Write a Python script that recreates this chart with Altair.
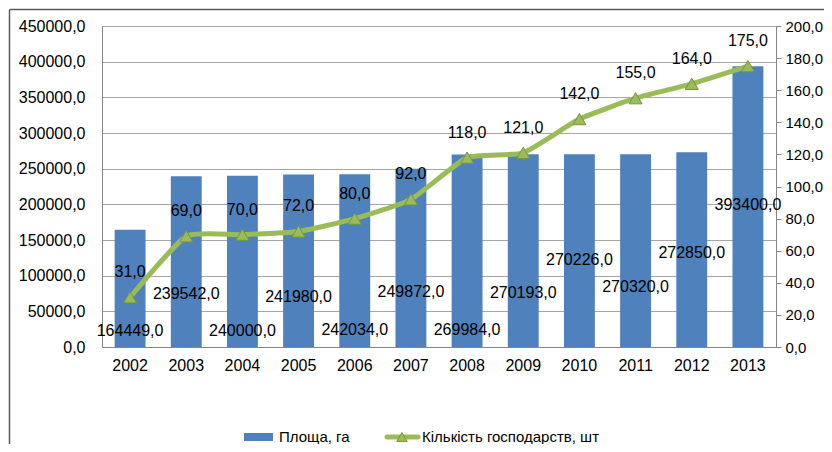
import altair as alt
import pandas as pd

years = [str(y) for y in range(2002, 2014)]
area = [164449.0, 239542.0, 240000.0, 241980.0, 242034.0, 249872.0,
        269984.0, 270193.0, 270226.0, 270320.0, 272850.0, 393400.0]
farms = [31.0, 69.0, 70.0, 72.0, 80.0, 92.0, 118.0, 121.0, 142.0, 155.0, 164.0, 175.0]
# where Excel placed the bar value labels (in left-axis units)
area_label_at = [22400, 74300, 22400, 70100, 23800, 77100, 23800, 75700,
                 122000, 84100, 131800, 199000]

series_names = ["Площа, га", "Кількість господарств, шт"]

BLUE = "#4F81BD"
GREEN = "#9BBB59"
AXIS_GRAY = "#868686"
FONT = "Liberation Sans"
FS = 16


def fmt(v):
    return f"{v:.1f}".replace(".", ",")


df = pd.DataFrame({
    "year": years,
    "area": area,
    "farms": farms,
    "label_at": area_label_at,
    "area_txt": [fmt(v) for v in area],
    "farms_txt": [fmt(v) for v in farms],
})

label_expr = "replace(format(datum.value, '.1f'), '.', ',')"

x = alt.X("year:N",
          scale=alt.Scale(paddingInner=0.45, paddingOuter=0.225),
          axis=alt.Axis(title=None, labelAngle=0, ticks=False, labelPadding=10,
                        domainColor=AXIS_GRAY, labelFontSize=FS, labelColor="black",
                        labelFont=FONT, grid=False))

left_axis = alt.Axis(title=None, values=list(range(0, 450001, 50000)),
                     labelExpr=label_expr, ticks=False, labelPadding=17,
                     grid=True, gridColor="#A6A6A6", domainColor=AXIS_GRAY,
                     labelFontSize=FS, labelColor="black", labelFont=FONT)
left_scale = alt.Scale(domain=[0, 450000], nice=False)

right_axis = alt.Axis(orient="right", title=None, values=list(range(0, 201, 20)),
                      labelExpr=label_expr, tickSize=5, tickColor=AXIS_GRAY,
                      domainColor=AXIS_GRAY, grid=False, labelPadding=4,
                      labelFontSize=15, labelColor="black", labelFont=FONT)
right_scale = alt.Scale(domain=[0, 200], nice=False)

base = alt.Chart(df)

bars = base.mark_bar(color=BLUE).encode(
    x=x,
    y=alt.Y("area:Q", scale=left_scale, axis=left_axis),
)

bar_text = base.mark_text(fontSize=FS, font=FONT, color="black", baseline="middle").encode(
    x=x,
    y=alt.Y("label_at:Q", scale=left_scale, axis=left_axis),
    text="area_txt:N",
)

one = pd.DataFrame({"name": [series_names[0]], "name2": [series_names[1]]})
deco = alt.Chart(one)

border_top = deco.mark_rule(color="#595959", strokeWidth=1.5).encode(
    x=alt.value(-92), x2=alt.value(730), y=alt.value(-16.5))
border_left = deco.mark_rule(color="#595959", strokeWidth=1.5).encode(
    x=alt.value(-92.5), y=alt.value(-16.5), y2=alt.value(420))

LEG_Y = 411
leg_rect = deco.mark_rect(color=BLUE).encode(
    x=alt.value(142), x2=alt.value(171), y=alt.value(LEG_Y - 4), y2=alt.value(LEG_Y + 4))
leg_txt1 = deco.mark_text(fontSize=15, font=FONT, color="black", align="left",
                          baseline="middle").encode(
    x=alt.value(177), y=alt.value(LEG_Y), text="name:N")
leg_line = deco.mark_rule(color=GREEN, strokeWidth=5, strokeCap="round").encode(
    x=alt.value(285), x2=alt.value(316), y=alt.value(LEG_Y))
leg_pt = deco.mark_point(shape="triangle-up", size=110, filled=True, fill=GREEN,
                         stroke="#7A9440", strokeWidth=1, opacity=1).encode(
    x=alt.value(300), y=alt.value(LEG_Y))
leg_txt2 = deco.mark_text(fontSize=15, font=FONT, color="black", align="left",
                          baseline="middle").encode(
    x=alt.value(320), y=alt.value(LEG_Y), text="name2:N")

line = base.mark_line(color=GREEN, strokeWidth=5, interpolate="cardinal",
                      tension=0.5).encode(
    x=x, y=alt.Y("farms:Q", scale=right_scale, axis=right_axis))
pts = base.mark_point(shape="triangle-up", size=170, filled=True, fill=GREEN,
                      stroke="#7A9440", strokeWidth=1, opacity=1).encode(
    x=x, y=alt.Y("farms:Q", scale=right_scale, axis=right_axis))
line_text = base.mark_text(fontSize=FS, font=FONT, color="black", baseline="middle",
                           dy=-25).encode(
    x=x, y=alt.Y("farms:Q", scale=right_scale, axis=right_axis), text="farms_txt:N")

left_layer = alt.layer(bars, bar_text, border_top, border_left,
                       leg_rect, leg_txt1, leg_line, leg_pt, leg_txt2)
right_layer = alt.layer(line, pts, line_text)

chart = alt.layer(left_layer, right_layer).resolve_scale(y="independent").properties(
    width=674, height=321,
    padding={"left": 94, "top": 18, "right": 48, "bottom": 97},
    autosize=alt.AutoSizeParams(type="none"),
    background="white",
).configure_view(stroke=None).configure(font=FONT)

chart.save("out.html", embed_options={"renderer": "svg", "actions": False})
